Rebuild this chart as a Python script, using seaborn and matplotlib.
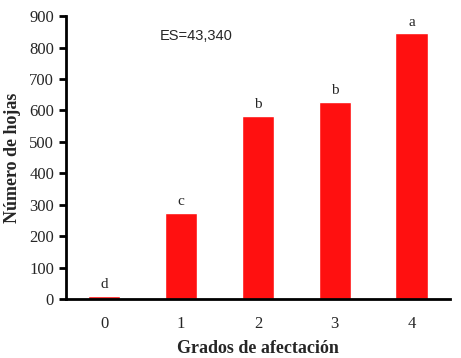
import numpy as np
import pandas as pd
import matplotlib
matplotlib.use("Agg")
import matplotlib.pyplot as plt
import seaborn as sb

# datos
grados = ["0", "1", "2", "3", "4"]
hojas = [10, 275, 583, 628, 845]
letras = ["d", "c", "b", "b", "a"]
yticks = [0, 100, 200, 300, 400, 500, 600, 700, 800, 900]

df = pd.DataFrame({"Grado": grados, "Hojas": hojas})

sb.set_style("white")
plt.rcParams["font.family"] = ["Liberation Serif", "DejaVu Serif"]

fig = plt.figure(figsize=(4.61, 3.58), dpi=100)
ax = fig.add_axes([0.143, 0.165, 0.833, 0.79])

sb.barplot(data=df, x="Grado", y="Hojas", color="#FF1010", saturation=1,
           width=0.42, ax=ax)

for i, (h, l) in enumerate(zip(hojas, letras)):
    ax.text(i, h + 15, l, ha="center", va="bottom", fontsize=11)

ax.text(0.245, 0.93, "ES=43,340", transform=ax.transAxes, fontsize=10.5,
        family="Liberation Sans", va="center", ha="left")

ax.set_xlim(-0.5, 4.5)
ax.set_ylim(0, 900)
ax.set_yticks(yticks)
ax.set_xticks(np.arange(-0.5, 5, 1), minor=True)
ax.tick_params(axis="x", which="major", length=0, pad=12, labelsize=12)
ax.tick_params(axis="x", which="minor", length=6, width=2, direction="out", color="black")
ax.tick_params(axis="y", length=5, width=2, direction="out", labelsize=12, color="black", left=True)

for s in ["top", "right"]:
    ax.spines[s].set_visible(False)
for s in ["left", "bottom"]:
    ax.spines[s].set_linewidth(2)
    ax.spines[s].set_color("black")

ax.set_xlabel("Grados de afectación", fontsize=13, fontweight="bold", labelpad=6)
ax.set_ylabel("Número de hojas", fontsize=13, fontweight="bold", labelpad=6)

fig.savefig("out.png", dpi=100)
